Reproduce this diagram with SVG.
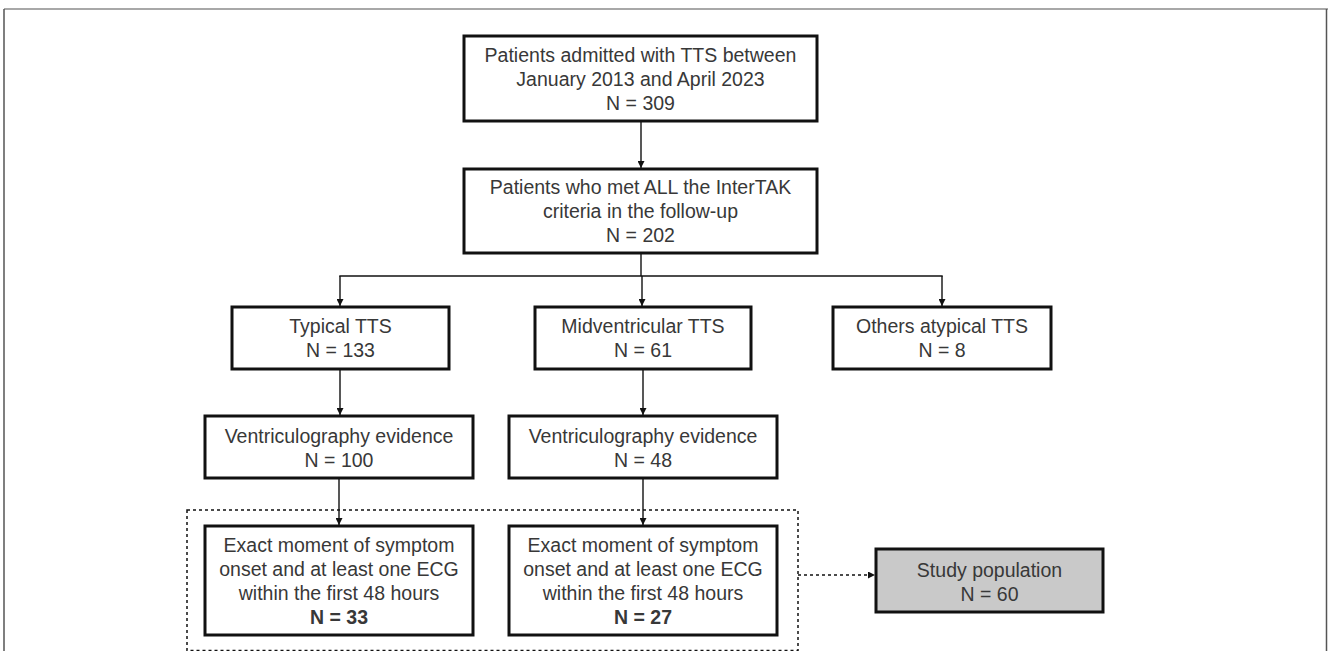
<svg xmlns="http://www.w3.org/2000/svg" width="1328" height="651" viewBox="0 0 1328 651">
<defs>
<style>
.box{fill:#fff;stroke:#111;stroke-width:3}
.grey{fill:#c9c9c9}
.t{font-family:"Liberation Sans",Arial,Helvetica,sans-serif;font-size:19.5px;fill:#383838;text-anchor:middle}
.b{font-weight:bold}
.ln{fill:none;stroke:#111;stroke-width:1.4}
.dot{fill:none;stroke:#111;stroke-width:1.5;stroke-dasharray:3 3}
</style>
<marker id="ah" viewBox="0 0 10 10" refX="10" refY="5" markerWidth="7" markerHeight="7" markerUnits="userSpaceOnUse" orient="auto">
<path d="M0,0 L10,5 L0,10 Z" fill="#111"/>
</marker>
</defs>
<rect width="1328" height="651" fill="#fff"/>
<g id="frame">
<line x1="4" y1="9" x2="1328" y2="9" stroke="#a8a8a8" stroke-width="2"/>
<line x1="4" y1="9" x2="4" y2="651" stroke="#555" stroke-width="1.5"/>
<line x1="1326.5" y1="9" x2="1326.5" y2="651" stroke="#555" stroke-width="1.5"/>
</g>
<g id="connectors">
<line class="ln" x1="641" y1="121" x2="641" y2="168" marker-end="url(#ah)"/>
<line class="ln" x1="641" y1="253" x2="641" y2="276"/>
<line class="ln" x1="339.3" y1="276" x2="942.7" y2="276"/>
<line class="ln" x1="340" y1="276" x2="340" y2="306" marker-end="url(#ah)"/>
<line class="ln" x1="642" y1="276" x2="642" y2="306" marker-end="url(#ah)"/>
<line class="ln" x1="942" y1="276" x2="942" y2="306" marker-end="url(#ah)"/>
<line class="ln" x1="340" y1="369" x2="340" y2="415" marker-end="url(#ah)"/>
<line class="ln" x1="643" y1="369" x2="643" y2="415" marker-end="url(#ah)"/>
<line class="ln" x1="339" y1="478" x2="339" y2="525" marker-end="url(#ah)"/>
<line class="ln" x1="643" y1="478" x2="643" y2="525" marker-end="url(#ah)"/>
<rect id="group-box" class="dot" x="187" y="510" width="611" height="140.5"/>
<line class="dot" x1="798" y1="575" x2="875" y2="575" marker-end="url(#ah)"/>
</g>
<g id="n1">
<rect class="box" x="464" y="36" width="353" height="85"/>
<text class="t" x="640.5" y="62">Patients admitted with TTS between</text>
<text class="t" x="640.5" y="86">January 2013 and April 2023</text>
<text class="t" x="640.5" y="110">N = 309</text>
</g>
<g id="n2">
<rect class="box" x="464" y="169" width="353" height="84"/>
<text class="t" x="640.5" y="194">Patients who met ALL the InterTAK</text>
<text class="t" x="640.5" y="218">criteria in the follow-up</text>
<text class="t" x="640.5" y="242">N = 202</text>
</g>
<g id="n3">
<rect class="box" x="232" y="307" width="217" height="62"/>
<text class="t" x="340.5" y="333">Typical TTS</text>
<text class="t" x="340.5" y="357">N = 133</text>
</g>
<g id="n4">
<rect class="box" x="535" y="307" width="216" height="62"/>
<text class="t" x="643" y="333">Midventricular TTS</text>
<text class="t" x="643" y="357">N = 61</text>
</g>
<g id="n5">
<rect class="box" x="833" y="307" width="218" height="62"/>
<text class="t" x="942" y="333">Others atypical TTS</text>
<text class="t" x="942" y="357">N = 8</text>
</g>
<g id="n6">
<rect class="box" x="205" y="416" width="268" height="62"/>
<text class="t" x="339" y="443">Ventriculography evidence</text>
<text class="t" x="339" y="467">N = 100</text>
</g>
<g id="n7">
<rect class="box" x="509" y="416" width="268" height="62"/>
<text class="t" x="643" y="443">Ventriculography evidence</text>
<text class="t" x="643" y="467">N = 48</text>
</g>
<g id="n8">
<rect class="box" x="205" y="526" width="268" height="109"/>
<text class="t" x="339" y="552">Exact moment of symptom</text>
<text class="t" x="339" y="576">onset and at least one ECG</text>
<text class="t" x="339" y="600">within the first 48 hours</text>
<text class="t b" x="339" y="624">N = 33</text>
</g>
<g id="n9">
<rect class="box" x="509" y="526" width="268" height="109"/>
<text class="t" x="643" y="552">Exact moment of symptom</text>
<text class="t" x="643" y="576">onset and at least one ECG</text>
<text class="t" x="643" y="600">within the first 48 hours</text>
<text class="t b" x="643" y="624">N = 27</text>
</g>
<g id="n10">
<rect class="box grey" x="876" y="549" width="227" height="63"/>
<text class="t" x="989.5" y="577">Study population</text>
<text class="t" x="989.5" y="601">N = 60</text>
</g>
</svg>
